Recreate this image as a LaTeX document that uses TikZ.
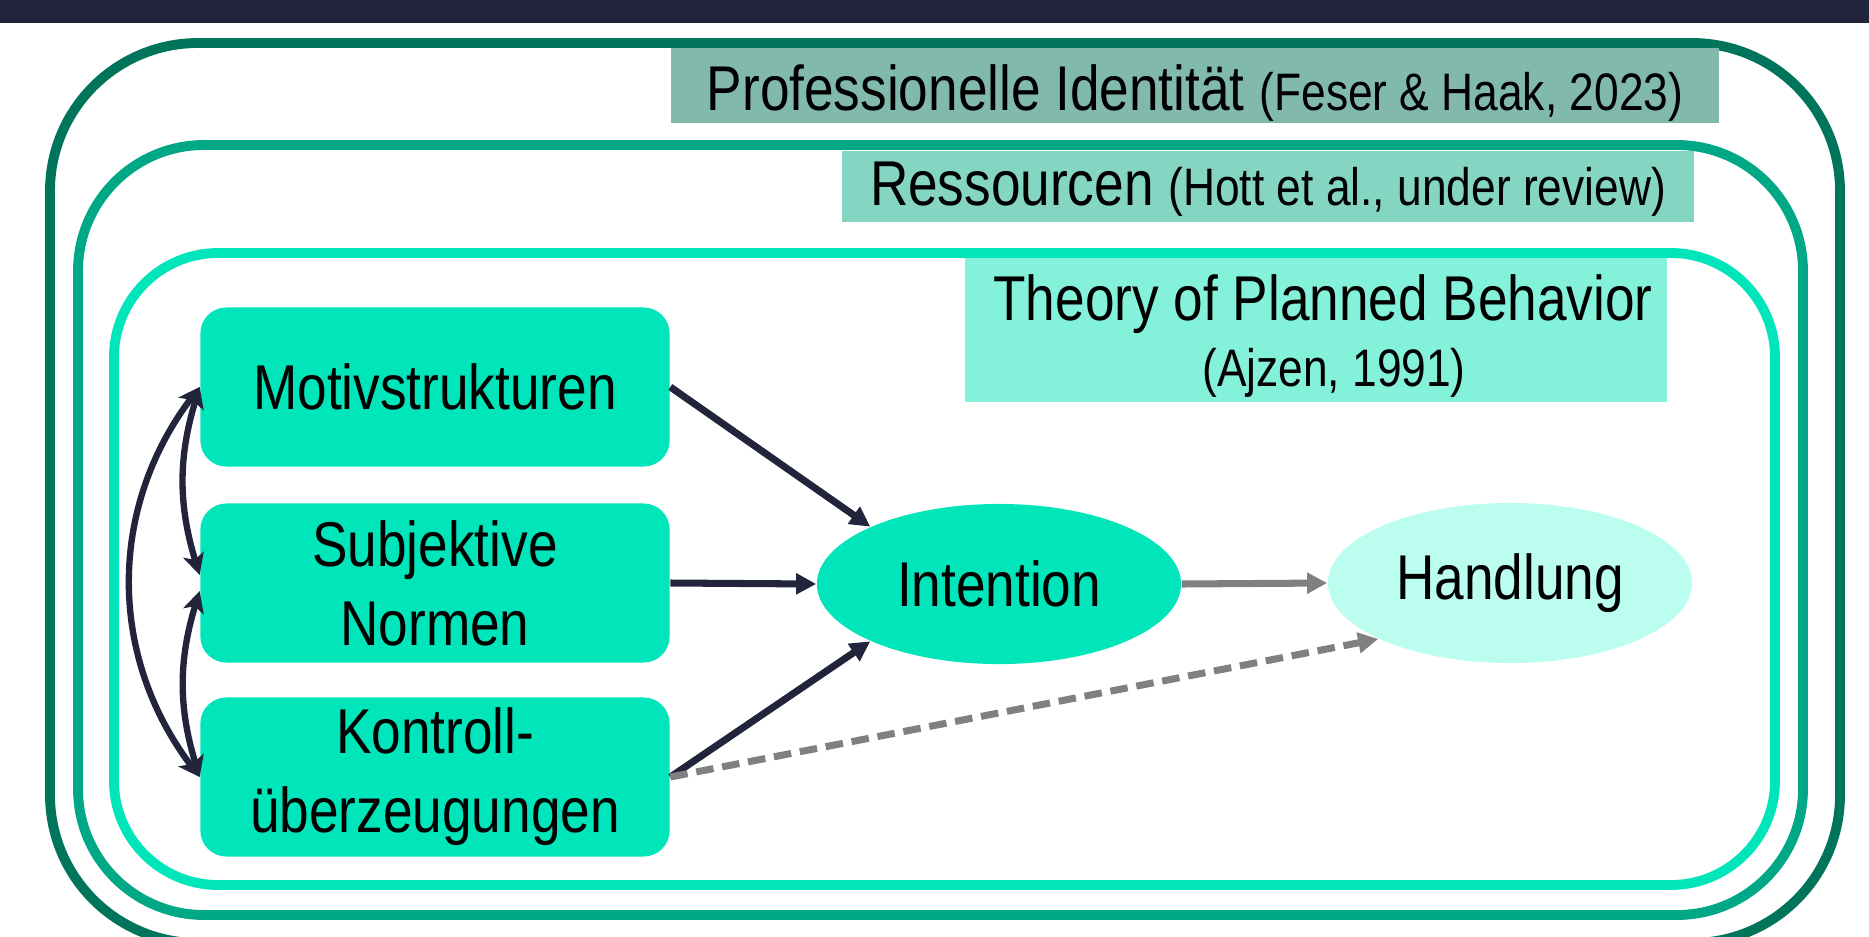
\documentclass[tikz,border=0pt]{standalone}
\usepackage{fontspec}
\setmainfont{Liberation Sans}[FakeStretch=0.84]
\usepackage{tikz}
\usetikzlibrary{shapes.geometric,arrows.meta}

\definecolor{barblue}{HTML}{21243A}
\definecolor{ringdark}{HTML}{00755B}
\definecolor{ringmid}{HTML}{00A886}
\definecolor{ringlight}{HTML}{00E5B9}
\definecolor{boxfill}{HTML}{00E5B9}
\definecolor{actfill}{HTML}{BBFDEE}
\definecolor{tagdark}{HTML}{82B9AD}
\definecolor{tagmid}{HTML}{84D6C2}
\definecolor{taglight}{HTML}{84F2DB}
\definecolor{arrowgrey}{HTML}{808080}

\newcommand{\bigtxt}{\fontsize{18pt}{22.5pt}\selectfont}
\newcommand{\smalltxt}{\fontsize{15pt}{19pt}\selectfont}

\begin{document}
\begin{tikzpicture}[x=0.01cm,y=-0.01cm,
		ring/.style={line width=2.8pt,rounded corners=#1},
		tag/.style={inner sep=0pt,anchor=base,font=\bigtxt},
		box/.style={fill=boxfill,rounded corners=0.26cm,minimum width=4.69cm,minimum height=1.59cm,align=center,inner sep=0pt,font=\bigtxt},
		oval/.style={ellipse,minimum width=3.64cm,minimum height=1.6cm,inner sep=0pt,font=\bigtxt},
		link/.style={draw=barblue,line width=2pt,-{Triangle[length=5.7pt,width=5.7pt]}},
		both/.style={draw=barblue,line width=1.8pt,{Stealth[length=6pt,width=6pt,inset=1.5pt]}-{Stealth[length=6pt,width=6pt,inset=1.5pt]}},
		greylink/.style={draw=arrowgrey,line width=2pt,-{Triangle[length=5.7pt,width=5.7pt]}},
		dashlink/.style={draw=arrowgrey,line width=2pt,dash pattern=on 5pt off 2.5pt,-{Triangle[length=5.7pt,width=5.7pt]}}]
		\useasboundingbox (0,0) rectangle (1869,936);
		\clip (0,0) rectangle (1869,936);
		\fill[barblue] (0,0) rectangle (1869,23);
		
		\draw[ring=1.48cm,ringdark] (50,43) rectangle (1840,943);
		\draw[ring=1.26cm,ringmid] (78,145) rectangle (1803,915);
		\draw[ring=1.04cm,ringlight] (114,253) rectangle (1775,885);
		
		\node[tag,fill=tagdark,minimum width=10.48cm,text height=0.62cm,text depth=0.13cm] (identity) at (1195,110) {Professionelle Identität {\smalltxt(Feser \& Haak, 2023)}};
		\node[tag,fill=tagmid,minimum width=8.51cm,text height=0.54cm,text depth=0.17cm] (resources) at (1268,205) {Ressourcen {\smalltxt(Hott et al., under review)}};
		\node[fill=taglight,minimum width=7.02cm,minimum height=1.44cm,inner sep=0pt,align=center,font=\fontsize{18pt}{19pt}\selectfont] (tpb) at (1316,330) {\hspace*{0.14cm}\rule{0pt}{16.5pt}Theory of Planned Behavior\\{\smalltxt\hspace*{0.36cm}(Ajzen, 1991)}};
		
		\node[box] (motiv) at (435,387) {Motivstrukturen};
		\node[box] (norms) at (435,583) {Subjektive\\Normen};
		\node[box] (control) at (435,777) {Kontroll-\\überzeugungen};
		\node[oval,fill=boxfill] (intention) at (999,584) {Intention};
		\node[oval,fill=actfill] (action) at (1510,583) {Handlung};
		
		\draw[link] (motiv.east) -- (intention.156);
		\draw[link] (norms.east) -- (intention.west);
		\draw[link] (control.east) -- (intention.204);
		\draw[greylink] (intention.east) -- (action.west);
		\draw[dashlink] (control.east) -- (action.203);
		\draw[both] (motiv.west) to[bend right=17] ([yshift=0.08cm]norms.west);
		\draw[both] ([yshift=-0.08cm]norms.west) to[bend right=17] (control.west);
		\draw[both] (motiv.west) to[bend right=37] (control.west);
	\end{tikzpicture}
\end{document}
